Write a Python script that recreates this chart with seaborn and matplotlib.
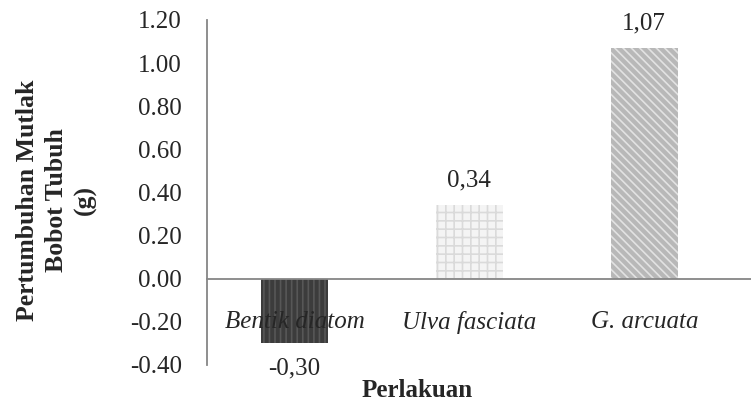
import numpy as np
import matplotlib.pyplot as plt
import pandas as pd
import seaborn as sns

sns.set_style("white")
plt.rcParams['font.family'] = ['Liberation Serif', 'DejaVu Serif']
plt.rcParams['hatch.linewidth'] = 1.2

# data
categories = ["Bentik diatom", "Ulva fasciata", "G. arcuata"]
values = [-0.30, 0.34, 1.07]
value_labels = ["-0,30", "0,34", "1,07"]
yticks = [-0.40, -0.20, 0.00, 0.20, 0.40, 0.60, 0.80, 1.00, 1.20]

colors = ["#3c3c3c", "#f4f4f4", "#b8b8b8"]
hatch_colors = ["#575757", "#dadada", "#e2e2e2"]
hatches = ["|||", "++", "\\\\\\\\"]

df = pd.DataFrame({"Perlakuan": categories, "nilai": values})

fig = plt.figure(figsize=(7.51, 4.03), dpi=100)
ax = fig.add_axes([0.2756, 0.0943, 0.7244, 0.8561])

sns.barplot(data=df, x="Perlakuan", y="nilai", hue="Perlakuan", palette=colors,
            width=0.38, legend=False, ax=ax)

for bar, hc, h in zip(ax.patches, hatch_colors, hatches):
    bar.set_hatch(h)
    bar.set_edgecolor(hc)
    bar.set_linewidth(0)

# value labels with comma decimals
for cont, lab in zip(ax.containers, value_labels):
    ax.bar_label(cont, labels=[lab], padding=10, fontsize=18)

ax.set_ylim(-0.4, 1.2)
ax.set_xlim(-0.5, 2.61)
ax.set_yticks(yticks)
ax.set_yticklabels(["%.2f" % t for t in yticks], fontsize=18)
ax.set_axisbelow(False)

ax.spines['top'].set_visible(False)
ax.spines['right'].set_visible(False)
ax.spines['bottom'].set_position(('data', 0))
for s in ['left', 'bottom']:
    ax.spines[s].set_color('#868686')
    ax.spines[s].set_linewidth(1.3)

ax.set_xticks([0, 1, 2])
ax.set_xticklabels(categories, fontstyle='italic', fontsize=18)
ax.set_xticks([-0.5, 0.5, 1.5], minor=True)
ax.tick_params(axis='x', which='major', length=0, pad=23)
ax.tick_params(axis='x', which='minor', length=6, width=1.3, color='#868686', direction='out')
ax.tick_params(axis='y', length=5, width=1.3, color='#868686', direction='out', pad=13)

ax.set_xlabel("")
ax.set_ylabel("")
fig.text(0.555, 0.032, "Perlakuan", fontsize=18, fontweight='bold', ha='center', va='center')
fig.text(0.075, 0.504, "Pertumbuhan Mutlak\nBobot Tubuh\n(g)", fontsize=18.5, fontweight='bold',
         rotation=90, ha='center', va='center', multialignment='center', linespacing=1.3)

fig.savefig("out.png", dpi=100)
